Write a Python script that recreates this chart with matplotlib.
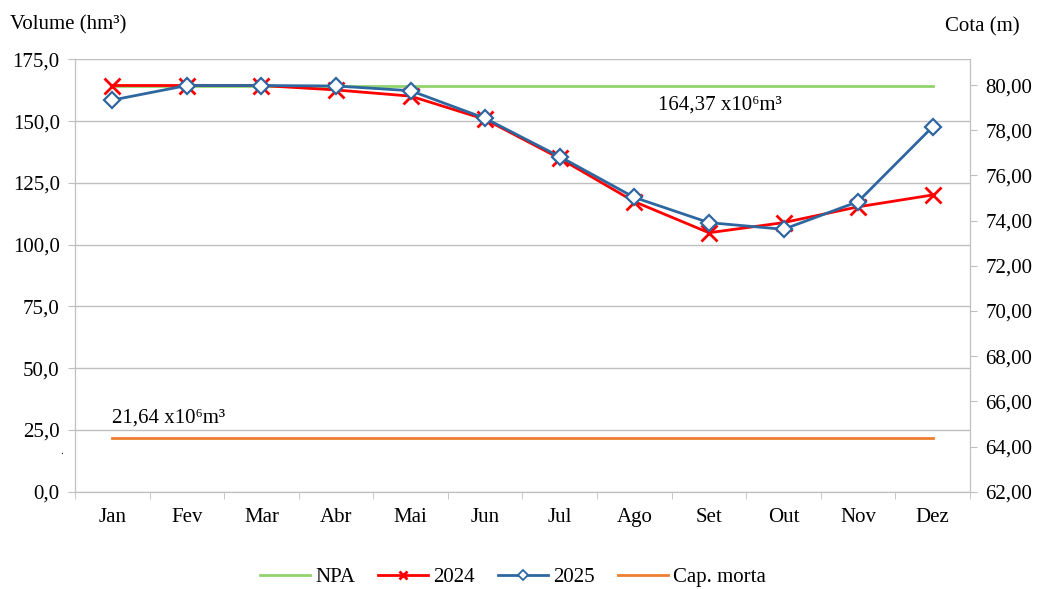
import matplotlib
matplotlib.use("Agg")
import matplotlib.pyplot as plt
from matplotlib.ticker import FuncFormatter, FixedLocator
from matplotlib.lines import Line2D

plt.rcParams['font.family'] = ['Liberation Serif', 'DejaVu Serif']

months = ["Jan", "Fev", "Mar", "Abr", "Mai", "Jun", "Jul", "Ago", "Set", "Out", "Nov", "Dez"]
vol_2024 = [164.4, 164.4, 164.4, 162.6, 160.1, 150.7, 134.9, 117.4, 104.8, 108.9, 115.3, 120.1]
vol_2025 = [158.5, 164.4, 164.4, 164.2, 162.3, 151.1, 135.6, 119.1, 108.9, 106.2, 117.4, 147.7]
npa = [164.37] * 12
cap_morta = [21.64] * 12
left_ticks = [0, 25, 50, 75, 100, 125, 150, 175]
right_ticks = [62, 64, 66, 68, 70, 72, 74, 76, 78, 80]

FS = 15
fig = plt.figure(figsize=(10.44, 5.89), dpi=100)
ax = fig.add_axes([0.0718, 0.1652, 0.8573, 0.7341])
x = list(range(len(months)))

grid_c = "#BFBFBF"
c_org, c_grn, c_red, c_blu = "#ED7D31", "#92D36E", "#FF0000", "#2E67A0"
ax.plot(x, cap_morta, color=c_org, lw=2.0, zorder=3)
ax.plot(x, npa, color=c_grn, lw=2.0, zorder=3)
ax.plot(x, vol_2024, color=c_red, lw=2.0, marker="x", ms=11, mew=2.0, zorder=4)
ax.plot(x, vol_2025, color=c_blu, lw=2.0, marker="D", ms=8.5, mew=1.6,
        mfc="white", mec=c_blu, zorder=5)

ax.set_xlim(-0.5, 11.5)
ax.set_ylim(0, 175)
ax.set_yticks(left_ticks)
ax.yaxis.set_major_formatter(FuncFormatter(lambda v, p: f"{v:.1f}".replace(".", ",")))
ax.set_xticks(x)
ax.set_xticklabels(months)
ax.xaxis.set_minor_locator(FixedLocator([i - 0.5 for i in range(13)]))
ax.tick_params(axis="x", which="major", length=0, pad=12, labelsize=FS)
ax.tick_params(axis="x", which="minor", length=5, color=grid_c)
ax.tick_params(axis="y", length=5, color=grid_c, labelsize=FS, pad=6)
ax.grid(axis="y", color=grid_c, lw=1.0, zorder=0)
for s in ["left", "bottom", "right", "top"]:
    ax.spines[s].set_color(grid_c)
ax.spines["top"].set_visible(False)

ax2 = ax.twinx()
ax2.set_ylim(62, 81.14)
ax2.set_yticks(right_ticks)
ax2.yaxis.set_major_formatter(FuncFormatter(lambda v, p: f"{v:.2f}".replace(".", ",")))
ax2.tick_params(axis="y", length=5, color=grid_c, labelsize=FS, pad=6)
for s in ["left", "bottom", "right", "top"]:
    ax2.spines[s].set_color(grid_c)
ax2.spines["top"].set_visible(False)

ax.text(8.15, 156.3, "164,37 x10\u2076m\u00b3", fontsize=FS, ha="center", va="center")
ax.text(0.0, 29.8, "21,64 x10\u2076m\u00b3", fontsize=FS, ha="left", va="center")
fig.text(62 / 1044, 1 - 452 / 589, ".", fontsize=8, ha="center", va="center")

fig.text(10 / 1044, 1 - 25 / 589, "Volume (hm\u00b3)", fontsize=FS, ha="left", va="center")
fig.text(982 / 1044, 1 - 27 / 589, "Cota (m)", fontsize=FS, ha="center", va="center")

handles = [
    Line2D([], [], color=c_grn, lw=2.0),
    Line2D([], [], color=c_red, lw=2.0, marker="x", ms=6, mew=2.0),
    Line2D([], [], color=c_blu, lw=2.0, marker="D", ms=5, mew=1.3, mfc="white", mec=c_blu),
    Line2D([], [], color=c_org, lw=2.0),
]
labels = ["NPA", "2024", "2025", "Cap. morta"]
fig.legend(handles, labels, loc="center",
           bbox_to_anchor=(513 / 1044, 1 - 577 / 589), ncol=4, frameon=False,
           fontsize=FS, handlelength=2.4, columnspacing=1.1, handletextpad=0.25)

fig.savefig("out.png", dpi=100)
